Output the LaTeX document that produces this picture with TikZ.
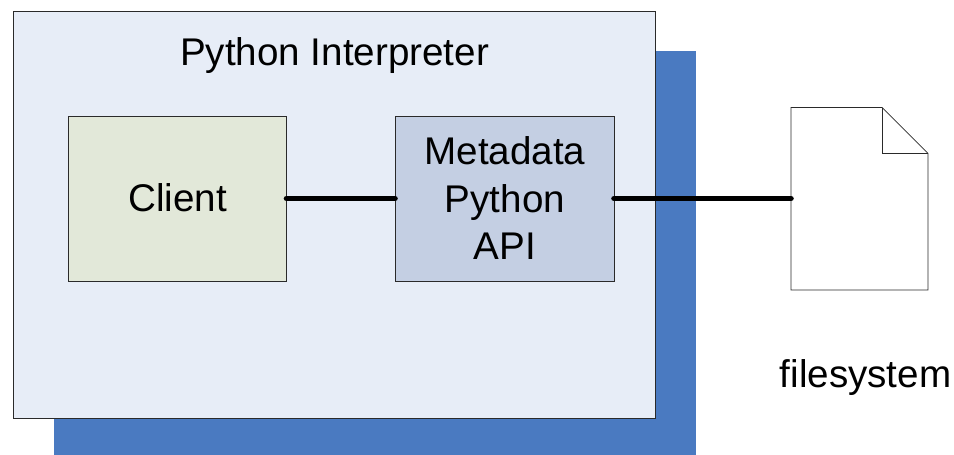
\documentclass[tikz,border=0pt]{standalone}
\usepackage{fontspec}
\setmainfont{Liberation Sans}
\definecolor{shadowblue}{HTML}{4A7AC1}
\definecolor{panelblue}{HTML}{E7EDF7}
\definecolor{clientgreen}{HTML}{E2E8D9}
\definecolor{apiblue}{HTML}{C4CFE3}
\definecolor{edgegray}{HTML}{2A2A2A}
\begin{document}
\begin{tikzpicture}[x=1pt,y=-1pt,
  boxed/.style={draw=edgegray,line width=0.7pt,anchor=north west,inner sep=0pt,outer sep=0pt},
  lbl/.style={font=\fontsize{38.6}{47.5}\selectfont,align=center,text=black},
  wire/.style={line width=5.6pt,line cap=round,black}]
\useasboundingbox (0,0) rectangle (954,455);
\node[anchor=north west,fill=shadowblue,minimum width=642pt,minimum height=404pt,inner sep=0pt] (shadow) at (54,51) {};
\node[boxed,fill=panelblue,minimum width=642pt,minimum height=407pt] (panel) at (13.5,11.5) {};
\node[lbl] (title) at (334.5,56) {Python Interpreter};
\node[boxed,fill=clientgreen,minimum width=218.5pt,minimum height=165pt] (client) at (68,116) {};
\node[lbl] (clientl) at (177.5,197.5) {Client};
\node[boxed,fill=apiblue,minimum width=219pt,minimum height=165pt] (api) at (395,116) {};
\node[lbl] (apil) at (505,198.5) {Metadata\\Python\\API};
\coordinate (fileleft) at (791,198.5);
\draw[boxed,fill=white] (791,107.5) -- (882,107.5) -- (928,153.5) -- (928,290) -- (791,290) -- cycle;
\draw[draw=edgegray,line width=0.7pt] (882,107.5) -- (882,153.5) -- (928,153.5);
\node[lbl] (fs) at (865.5,378) {filesystem};
\draw[wire] (client.east) -- (api.west);
\draw[wire] (api.east) -- (fileleft);
\end{tikzpicture}
\end{document}
